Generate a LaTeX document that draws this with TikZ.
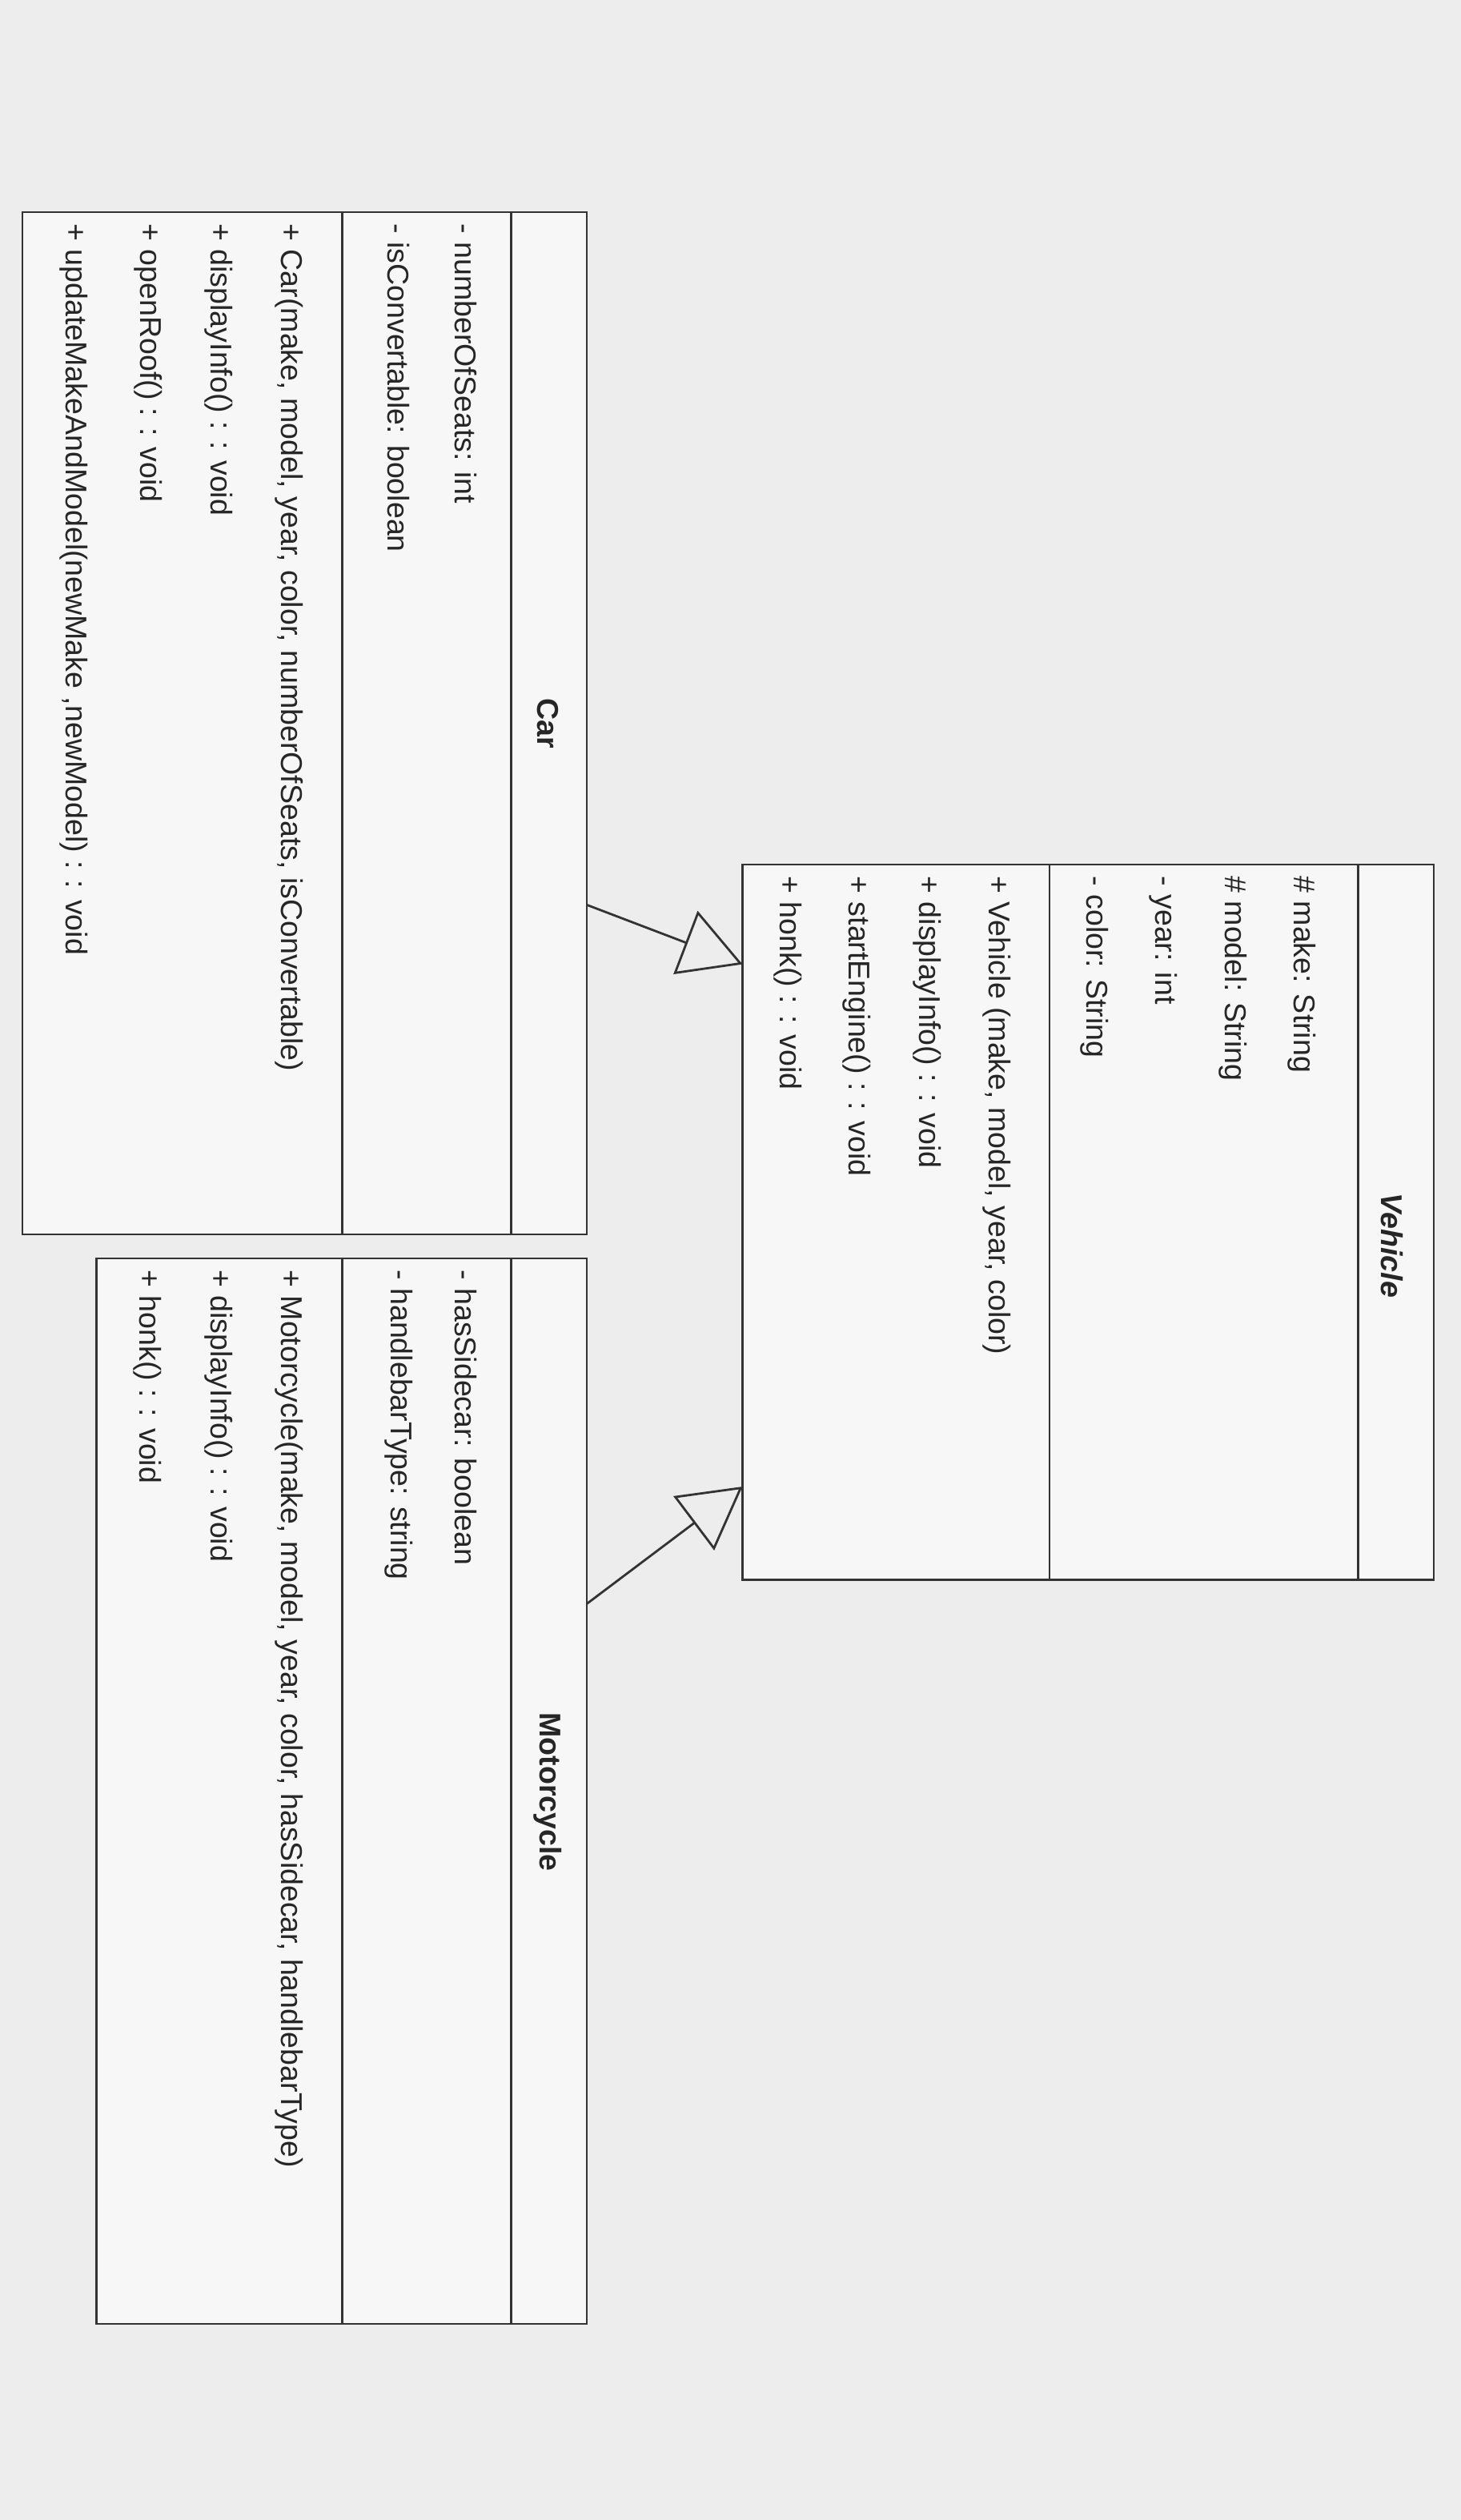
\documentclass[tikz,border=0pt]{standalone}
\usepackage{fontspec}
\setmainfont{Liberation Sans}
\usetikzlibrary{arrows.meta}
\begin{document}
\begin{tikzpicture}[x=1pt,y=1pt,
  txt/.style={rotate=-90,anchor=west,inner sep=0pt,font=\fontsize{18.7}{22}\selectfont,text=black!85},
  ttl/.style={rotate=-90,inner sep=0pt,font=\bfseries\fontsize{18.7}{22}\selectfont,text=black!85},
  cbox/.style={draw=black!80,line width=1.2pt,fill=gray!6,inner sep=0pt},
  inh/.style={draw=black!80,line width=1.4pt,-{Triangle[open,length=38pt,width=42pt,line width=1.4pt]}}]
\fill[gray!14] (0,0) rectangle (909,1568);
\useasboundingbox (0,0) rectangle (909,1568);
% Vehicle
\node[cbox,minimum width=430pt,minimum height=445pt] (veh) at (677,807.5) {};
\draw[black!80,line width=1.2pt] (845,1030) -- (845,585);
\draw[black!80,line width=1.2pt] (653,1030) -- (653,585);
\node[ttl,font=\bfseries\itshape\fontsize{18.7}{22}\selectfont] (vt) at (866,793) {Vehicle};
\node[txt] (v1) at (810,1023) {\# make: String};
\node[txt] (v2) at (767,1023) {\# model: String};
\node[txt] (v3) at (724,1023) {- year: int};
\node[txt] (v4) at (681,1023) {- color: String};
\node[txt] (v5) at (620,1023) {+ Vehicle (make, model, year, color)};
\node[txt] (v6) at (577,1023) {+ displayInfo() : : void};
\node[txt] (v7) at (533,1023) {+ startEngine() : : void};
\node[txt] (v8) at (490,1023) {+ honk() : : void};
% Car
\node[cbox,minimum width=351pt,minimum height=636pt] (car) at (189.5,1118) {};
\draw[black!80,line width=1.2pt] (318,1436) -- (318,800);
\draw[black!80,line width=1.2pt] (213,1436) -- (213,800);
\node[ttl] (ct) at (341,1118) {Car};
\node[txt] (c1) at (290,1429) {- numberOfSeats: int};
\node[txt] (c2) at (248,1429) {- isConvertable: boolean};
\node[txt] (c3) at (180,1429) {+ Car(make, model, year, color, numberOfSeats, isConvertable)};
\node[txt] (c4) at (136,1429) {+ displayInfo() : : void};
\node[txt] (c5) at (92,1429) {+ openRoof() : : void};
\node[txt] (c6) at (46,1429) {+ updateMakeAndModel(newMake ,newModel) : : void};
% Motorcycle
\node[cbox,minimum width=305pt,minimum height=663pt] (moto) at (212.5,453.5) {};
\draw[black!80,line width=1.2pt] (318,785) -- (318,122);
\draw[black!80,line width=1.2pt] (213,785) -- (213,122);
\node[ttl] (mt) at (341,453) {Motorcycle};
\node[txt] (m1) at (290,778) {- hasSidecar: boolean};
\node[txt] (m2) at (248,778) {- handlebarType: string};
\node[txt] (m3) at (180,778) {+ Motorcycle(make, model, year, color, hasSidecar, handlebarType)};
\node[txt] (m4) at (136,778) {+ displayInfo() : : void};
\node[txt] (m5) at (92,778) {+ honk() : : void};
% inheritance
\coordinate (cs) at (365,1005);
\coordinate (ct1) at (462,968);
\coordinate (ms) at (365,570);
\coordinate (mt1) at (462,643);
\draw[inh] (cs) -- (ct1);
\draw[inh] (ms) -- (mt1);
\end{tikzpicture}
\end{document}
